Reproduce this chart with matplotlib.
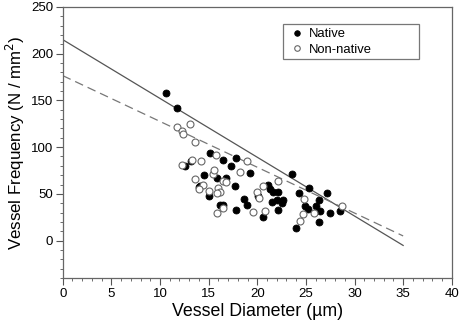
import matplotlib
matplotlib.use("Agg")
import matplotlib.pyplot as plt
from matplotlib.ticker import MultipleLocator
from matplotlib.patches import Rectangle
import numpy as np

plt.rcParams['font.family'] = ['Liberation Sans', 'DejaVu Sans']

native_x = [10.6, 11.7, 12.6, 13.2, 14.0, 15.15, 16.5, 17.8, 17.3, 19.3, 14.5, 15.9,
            16.8, 14.1, 15.0, 17.7, 16.5, 16.2, 17.8, 18.6, 18.9, 20.6, 21.15, 21.3,
            21.6, 22.1, 21.5, 22.0, 22.6, 22.5, 22.1, 23.6, 25.3, 27.2, 24.3, 26.4,
            24.95, 25.2, 26.0, 26.5, 27.5, 28.5, 26.4, 24.0, 20.1]
native_y = [158, 142, 80, 85, 57, 93.6, 86, 88, 79.5, 72, 70, 67,
            67, 58, 47.5, 58.5, 38, 37.6, 33, 44, 38.6, 25, 59, 55,
            52, 52, 41, 43, 43, 40, 33, 71, 56, 51, 51, 43,
            37, 34, 36.5, 32, 30, 31.6, 20, 13.5, 48]

nonnative_x = [11.8, 12.3, 12.4, 13.1, 13.6, 12.3, 13.3, 13.6, 14.2, 15.8, 18.9, 18.2,
               15.5, 15.6, 16.5, 16.8, 14.4, 14.0, 15.05, 16.0, 16.2, 15.9, 16.5, 15.9,
               19.6, 20.8, 20.6, 20.0, 20.2, 22.1, 24.8, 24.7, 25.8, 28.7, 24.4]
nonnative_y = [121, 117, 114, 124.5, 105, 81, 86, 66, 85, 92, 85, 73,
               71, 76, 64, 63, 60, 55, 53, 56, 52, 51, 35, 29.5,
               31, 32, 58, 52, 46, 64, 44.7, 29, 29.5, 37, 20.5]

# fitted lines (intercept, slope), drawn from 0 to 35 um
native_fit = (215.0, -6.29)
nonnative_fit = (176.5, -4.9)
fit_range = [0, 35]

fig = plt.figure(figsize=(4.61, 3.29), dpi=100)
ax = fig.add_axes([0.136, 0.155, 0.844, 0.824])

xs = np.array(fit_range)
ax.plot(xs, native_fit[0] + native_fit[1] * xs, color='#555555', lw=0.9, zorder=1)
ax.plot(xs, nonnative_fit[0] + nonnative_fit[1] * xs, color='#777777', lw=0.9,
        ls=(0, (7, 4)), zorder=1)

ax.plot(native_x, native_y, 'o', ms=5, mfc='black', mec='black', mew=0.6,
        label='Native', zorder=3)
ax.plot(nonnative_x, nonnative_y, 'o', ms=5, mfc='white', mec='#666666', mew=0.8,
        label='Non-native', zorder=3)

ax.set_xlim(0, 40)
ax.set_ylim(-40, 250)
ax.xaxis.set_major_locator(MultipleLocator(5))
ax.xaxis.set_minor_locator(MultipleLocator(1))
ax.yaxis.set_major_locator(MultipleLocator(50))
ax.yaxis.set_minor_locator(MultipleLocator(10))
ax.tick_params(which='major', length=5, width=0.8, color='#555555', labelsize=9.5, pad=2)
ax.tick_params(which='minor', length=2.5, width=0.6, color='#555555')
for s in ax.spines.values():
    s.set_color('#666666')
    s.set_linewidth(0.9)

ax.set_xlabel('Vessel Diameter (µm)', fontsize=12.8, labelpad=2)
ax.set_ylabel('Vessel Frequency (N / mm$^2$)', fontsize=12.2, labelpad=3)

# legend box drawn separately, it is wider than the entries
ax.add_patch(Rectangle((0.566, 0.808), 0.349, 0.129, transform=ax.transAxes,
                       fill=False, ec='#777777', lw=0.9, zorder=4))
leg = ax.legend(loc='upper left', bbox_to_anchor=(0.586, 0.922), fontsize=9.4,
                frameon=False, borderpad=0, borderaxespad=0, handletextpad=0.45,
                labelspacing=0.25, handlelength=0.95, markerscale=0.8)

fig.savefig('out.png', dpi=100)
